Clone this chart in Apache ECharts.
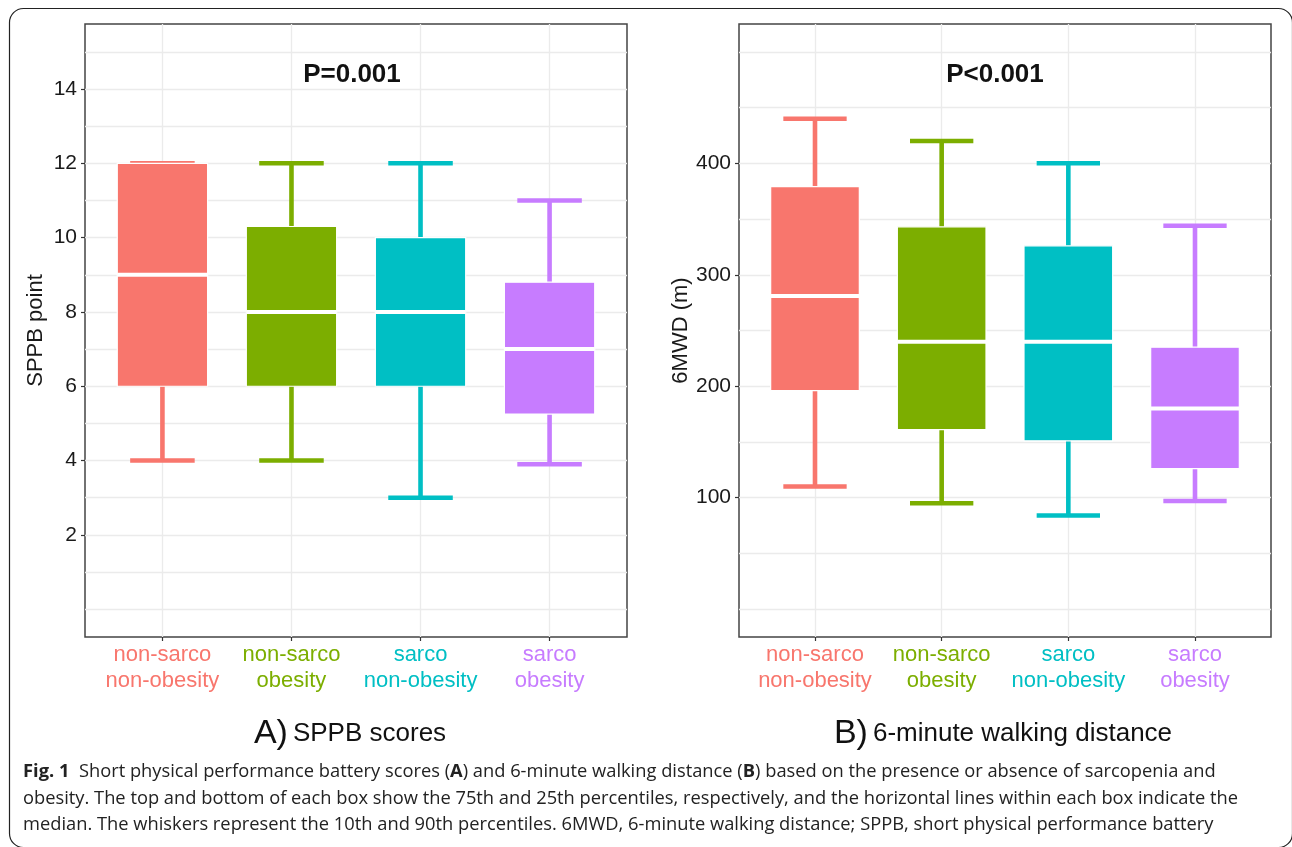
<!DOCTYPE html>
<html>
<head>
<meta charset="utf-8">
<script src="https://cdn.jsdelivr.net/npm/echarts@6/dist/echarts.min.js"></script>
<style>
html,body{margin:0;padding:0;background:#fff;}
#chart{width:1292px;height:847px;}
</style>
</head>
<body>
<div id="chart"></div>
<script>
// ---------------- data ----------------
const categories = ['non-sarco\nnon-obesity', 'non-sarco\nobesity', 'sarco\nnon-obesity', 'sarco\nobesity'];
const categoryPositions = [1, 2, 3, 4];
const groupColors = ['#F8766D', '#7CAE00', '#00BFC4', '#C77CFF'];

// A) SPPB scores (10th pct, 25th, median, 75th, 90th)
const sppbLow = [4, 4, 3, 3.9];
const sppbQ1 = [6, 6, 6, 5.25];
const sppbMedian = [9, 8, 8, 7];
const sppbQ3 = [12, 10.3, 10, 8.8];
const sppbHigh = [12, 12, 12, 11];
const sppbTickLabels = [2, 4, 6, 8, 10, 12, 14];
const sppbGridValues = [0, 1, 2, 3, 4, 5, 6, 7, 8, 9, 10, 11, 12, 13, 14, 15];

// B) 6-minute walking distance
const mwdLow = [110, 95, 84, 97];
const mwdQ1 = [196, 161, 151, 126];
const mwdMedian = [281, 240, 240, 180];
const mwdQ3 = [379, 343, 326, 235];
const mwdHigh = [440, 420, 400, 344];
const mwdTickLabels = [100, 200, 300, 400];
const mwdGridValues = [0, 50, 100, 150, 200, 250, 300, 350, 400, 450, 500];

const pTexts = ['P=0.001', 'P<0.001'];
const axisTitles = ['SPPB point', '6MWD (m)'];
const panelLetters = ['A)', 'B)'];
const panelTitles = ['SPPB scores', '6-minute walking distance'];
const captionLines = [
  '{b|Fig. 1}  Short physical performance battery scores ({b|A}) and 6-minute walking distance ({b|B}) based on the presence or absence of sarcopenia and',
  'obesity. The top and bottom of each box show the 75th and 25th percentiles, respectively, and the horizontal lines within each box indicate the',
  'median. The whiskers represent the 10th and 90th percentiles. 6MWD, 6-minute walking distance; SPPB, short physical performance battery'
];

// ---------------- helpers ----------------
const FONT = "'Liberation Sans', Arial, Helvetica, sans-serif";
const CAP_FONT = "'Open Sans', 'Noto Sans', sans-serif";

function rows(lo, q1, md, q3, hi) {
  return categoryPositions.map((x, i) => [x, lo[i], q1[i], md[i], q3[i], hi[i]]);
}

function renderBox(params, api) {
  const x = api.value(0);
  const lo = api.coord([x, api.value(1)]);
  const q1 = api.coord([x, api.value(2)]);
  const md = api.coord([x, api.value(3)]);
  const q3 = api.coord([x, api.value(4)]);
  const hi = api.coord([x, api.value(5)]);
  const unit = api.size([1, 0])[0];
  const bw = unit * 0.7, cw = unit * 0.5;
  const c = groupColors[params.dataIndex];
  const ls = { stroke: c, lineWidth: 4.6, fill: null };
  return {
    type: 'group',
    children: [
      { type: 'line', shape: { x1: lo[0], y1: lo[1], x2: hi[0], y2: hi[1] }, style: ls },
      { type: 'line', shape: { x1: lo[0] - cw / 2, y1: lo[1], x2: lo[0] + cw / 2, y2: lo[1] }, style: ls },
      { type: 'line', shape: { x1: hi[0] - cw / 2, y1: hi[1], x2: hi[0] + cw / 2, y2: hi[1] }, style: ls },
      { type: 'rect', shape: { x: q3[0] - bw / 2, y: q3[1], width: bw, height: q1[1] - q3[1] },
        style: { fill: c, stroke: '#ffffff', lineWidth: 1.2 } },
      { type: 'line', shape: { x1: md[0] - bw / 2, y1: md[1], x2: md[0] + bw / 2, y2: md[1] },
        style: { stroke: '#ffffff', lineWidth: 4 } }
    ]
  };
}

const catRich = {};
groupColors.forEach((c, i) => { catRich['c' + i] = { color: c, fontSize: 22, lineHeight: 26, fontFamily: FONT }; });
function catFormatter(v) {
  const i = Math.round(v) - 1;
  return categories[i].split('\n').map(s => '{c' + i + '|' + s + '}').join('\n');
}

function xAxisFor(gridIndex) {
  return {
    type: 'value', gridIndex, min: 0.4, max: 4.6, position: 'bottom',
    axisLine: { show: false, onZero: false },
    axisTick: { show: true, customValues: categoryPositions, length: 4, lineStyle: { color: '#333', width: 1.2 } },
    axisLabel: { customValues: categoryPositions, formatter: catFormatter, rich: catRich, margin: 5 },
    splitLine: { show: true, lineStyle: { color: '#EBEBEB', width: 1.3 } }
  };
}
function yGridAxis(gridIndex, min, max, vals) {
  return {
    type: 'value', gridIndex, min, max, position: 'right',
    axisLine: { show: false, onZero: false },
    axisTick: { show: false, customValues: vals },
    axisLabel: { show: false },
    splitLine: { show: true, lineStyle: { color: '#EBEBEB', width: 1.3 } }
  };
}
function yLabelAxis(gridIndex, min, max, vals, name, gap) {
  return {
    type: 'value', gridIndex, min, max, position: 'left',
    name, nameLocation: 'middle', nameGap: gap,
    nameTextStyle: { fontSize: 22, color: '#1a1a1a', fontFamily: FONT },
    axisLine: { show: false, onZero: false },
    axisTick: { show: true, customValues: vals, length: 4, lineStyle: { color: '#333', width: 1.2 } },
    axisLabel: { customValues: vals, fontSize: 21, color: '#1a1a1a', margin: 8, fontFamily: FONT },
    splitLine: { show: false }
  };
}

// caption font size fitted to the reference line width
const mctx = document.createElement('canvas').getContext('2d');
mctx.font = '16px ' + CAP_FONT;
const w16 = mctx.measureText(captionLines[1]).width;
const capSize = Math.max(12, Math.min(20, 16 * 1216 / w16));
const capBaselines = [781, 807.5, 834];

const titleRich = {
  a: { fontSize: 34, color: '#111', fontWeight: 'normal', fontFamily: FONT },
  b: { fontSize: 26, color: '#111', fontWeight: 'normal', fontFamily: FONT }
};

const chart = echarts.init(document.getElementById('chart'), null, { renderer: 'canvas' });
chart.setOption({
  animation: false,
  backgroundColor: '#ffffff',
  textStyle: { fontFamily: FONT },
  grid: [
    { left: 85, top: 24, width: 542, height: 613, show: true, borderColor: '#444', borderWidth: 1.5, backgroundColor: 'transparent', containLabel: false },
    { left: 739, top: 24, width: 532, height: 613, show: true, borderColor: '#444', borderWidth: 1.5, backgroundColor: 'transparent', containLabel: false }
  ],
  xAxis: [xAxisFor(0), xAxisFor(1)],
  yAxis: [
    yGridAxis(0, -0.75, 15.75, sppbGridValues),
    yLabelAxis(0, -0.75, 15.75, sppbTickLabels, axisTitles[0], 38),
    yGridAxis(1, -25, 525, mwdGridValues),
    yLabelAxis(1, -25, 525, mwdTickLabels, axisTitles[1], 45)
  ],
  title: [
    { text: pTexts[0], left: 347, top: 57, textAlign: 'center',
      textStyle: { fontSize: 26, fontWeight: 'bold', color: '#111', fontFamily: FONT } },
    { text: pTexts[1], left: 990, top: 57, textAlign: 'center',
      textStyle: { fontSize: 26, fontWeight: 'bold', color: '#111', fontFamily: FONT } },
    { text: '{a|' + panelLetters[0] + '} {b|' + panelTitles[0] + '}', left: 345, top: 712, textAlign: 'center',
      textStyle: { fontWeight: 'normal', rich: titleRich } },
    { text: '{a|' + panelLetters[1] + '} {b|' + panelTitles[1] + '}', left: 998, top: 712, textAlign: 'center',
      textStyle: { fontWeight: 'normal', rich: titleRich } }
  ],
  graphic: [
    { type: 'rect', left: 7, top: 6, silent: true, z: -1,
      shape: { width: 1283, height: 839, r: 14 },
      style: { fill: null, stroke: '#222', lineWidth: 1.2 } }
  ].concat(captionLines.map((t, i) => ({
    type: 'text', x: 23, y: capBaselines[i], silent: true,
    style: {
      text: t, fontSize: capSize, fontFamily: CAP_FONT, fill: '#222',
      verticalAlign: 'bottom',
      rich: { b: { fontWeight: 'bold', fontSize: capSize, fontFamily: CAP_FONT, fill: '#222' } }
    }
  }))),
  series: [
    { type: 'custom', name: 'SPPB', xAxisIndex: 0, yAxisIndex: 0, renderItem: renderBox,
      encode: { x: 0, y: [1, 2, 3, 4, 5] }, data: rows(sppbLow, sppbQ1, sppbMedian, sppbQ3, sppbHigh) },
    { type: 'custom', name: '6MWD', xAxisIndex: 1, yAxisIndex: 2, renderItem: renderBox,
      encode: { x: 0, y: [1, 2, 3, 4, 5] }, data: rows(mwdLow, mwdQ1, mwdMedian, mwdQ3, mwdHigh) }
  ]
});
</script>
</body>
</html>
